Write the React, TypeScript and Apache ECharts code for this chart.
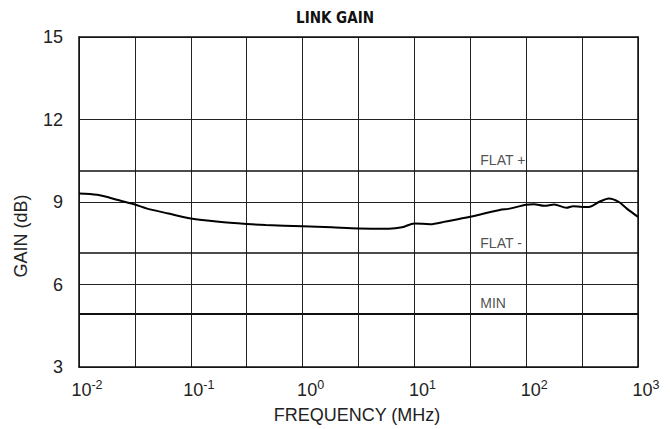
import React, { useEffect, useRef } from "react";
import * as echarts from "echarts";

// Frequency (MHz) and link gain (dB)
const freqMHz = [
  0.01, 0.0145, 0.0224, 0.0316, 0.0407, 0.0631, 0.1, 0.178, 0.316, 0.468,
  1, 1.82, 3.16, 5.89, 7.76, 10, 13.8, 19.1, 31.6, 60.3, 69.2, 100, 117,
  145, 178, 229, 263, 316, 363, 447, 550, 676, 794, 1000,
];
const gainDb = [
  9.31, 9.26, 9.07, 8.91, 8.76, 8.58, 8.4, 8.28, 8.2, 8.16,
  8.12, 8.08, 8.04, 8.03, 8.08, 8.22, 8.19, 8.29, 8.46, 8.73, 8.75, 8.9, 8.92,
  8.86, 8.91, 8.79, 8.85, 8.82, 8.82, 9.0, 9.13, 9.0, 8.76, 8.46,
];

// Specification limits
const specNames = ["FLAT +", "FLAT -", "MIN"];
const specValues = [10.15, 7.15, 4.95];

// Axis ranges / ticks
const yTicks = [3, 6, 9, 12, 15];
const xMinMHz = 0.01;
const xMaxMHz = 1000;

const FONT = "Liberation Sans, Arial, Helvetica, sans-serif";

export default function App() {
  const ref = useRef<HTMLDivElement>(null);

  useEffect(() => {
    if (!ref.current) return;
    const chart = echarts.init(ref.current, undefined, { renderer: "svg" });
    const curve = freqMHz.map((f, i) => [f, gainDb[i]]);
    const labelFreq = Math.pow(10, 1.5);

    chart.setOption({
      animation: false,
      backgroundColor: "#ffffff",
      title: {
        text: "LINK GAIN",
        left: "center",
        top: 10,
        padding: 0,
        textStyle: {
          fontFamily: "Liberation Sans Narrow, DejaVu Sans Condensed, Arial, sans-serif",
          fontWeight: "bold",
          fontSize: 15,
          color: "#111",
        },
      },
      grid: { left: 79, right: 32, top: 37, bottom: 62, containLabel: false },
      xAxis: [
        {
          type: "log",
          logBase: 10,
          min: xMinMHz,
          max: xMaxMHz,
          position: "bottom",
          axisLine: { show: true, onZero: false, lineStyle: { color: "#111", width: 1.5 } },
          axisTick: { show: false },
          splitLine: { show: false },
          axisLabel: {
            margin: 11,
            padding: [0, 0, 0, 16],
            formatter: (v: number) => {
              const e = Math.round(Math.log10(v));
              return `{b|10}{s|${e}}`;
            },
            rich: {
              b: { fontSize: 18, fontFamily: FONT, color: "#222", lineHeight: 21, verticalAlign: "bottom" },
              s: { fontSize: 12.5, fontFamily: FONT, color: "#222", lineHeight: 12, verticalAlign: "top" },
            },
          },
        },
        {
          type: "value",
          min: -2,
          max: 3,
          interval: 0.5,
          position: "top",
          axisLine: { show: true, onZero: false, lineStyle: { color: "#111", width: 1.5 } },
          axisTick: { show: false },
          axisLabel: { show: false },
          splitLine: { show: true, lineStyle: { color: "#222", width: 1 } },
        },
      ],
      yAxis: [
        {
          type: "value",
          min: yTicks[0],
          max: yTicks[yTicks.length - 1],
          interval: 3,
          position: "left",
          axisLine: { show: true, onZero: false, lineStyle: { color: "#111", width: 1.5 } },
          axisTick: { show: false },
          splitLine: { show: true, lineStyle: { color: "#222", width: 1 } },
          axisLabel: {
            fontSize: 18,
            fontFamily: FONT,
            color: "#222",
            margin: 16,
            padding: [0, 0, 6, 0],
          },
        },
        {
          type: "value",
          min: yTicks[0],
          max: yTicks[yTicks.length - 1],
          interval: 3,
          position: "right",
          axisLine: { show: true, onZero: false, lineStyle: { color: "#111", width: 1.5 } },
          axisTick: { show: false },
          axisLabel: { show: false },
          splitLine: { show: false },
        },
      ],
      graphic: [
        {
          type: "text",
          x: 357,
          y: 415,
          style: {
            text: "FREQUENCY (MHz)",
            fontSize: 18,
            fontFamily: FONT,
            fill: "#222",
            align: "center",
            verticalAlign: "middle",
          },
        },
        {
          type: "text",
          x: 21,
          y: 236,
          rotation: Math.PI / 2,
          style: {
            text: "GAIN (dB)",
            fontSize: 18,
            fontFamily: FONT,
            fill: "#222",
            align: "center",
            verticalAlign: "middle",
          },
        },
      ],
      series: [
        {
          name: "Link gain",
          type: "line",
          xAxisIndex: 0,
          yAxisIndex: 0,
          data: curve,
          showSymbol: false,
          smooth: 0.3,
          lineStyle: { color: "#000", width: 2 },
          markLine: {
            silent: true,
            symbol: "none",
            label: { show: false },
            data: specValues.map((v, i) => ({
              yAxis: v,
              lineStyle: { color: "#111", width: i === 2 ? 2 : 1.5, type: "solid" },
            })),
          },
          z: 5,
        },
        {
          name: "Spec labels",
          type: "scatter",
          xAxisIndex: 0,
          yAxisIndex: 0,
          symbolSize: 0,
          data: specValues.map((v, i) => ({ value: [labelFreq, v], name: specNames[i] })),
          label: {
            show: true,
            position: "right",
            distance: 10,
            offset: [0, -10],
            formatter: (p: any) => p.name,
            fontSize: 14,
            fontFamily: FONT,
            color: "#222",
          },
          z: 6,
        },
      ],
    });

    return () => chart.dispose();
  }, []);

  return (
    <div
      ref={ref}
      style={{ position: "fixed", left: 0, top: 0, width: 670, height: 429, background: "#fff" }}
    />
  );
}
